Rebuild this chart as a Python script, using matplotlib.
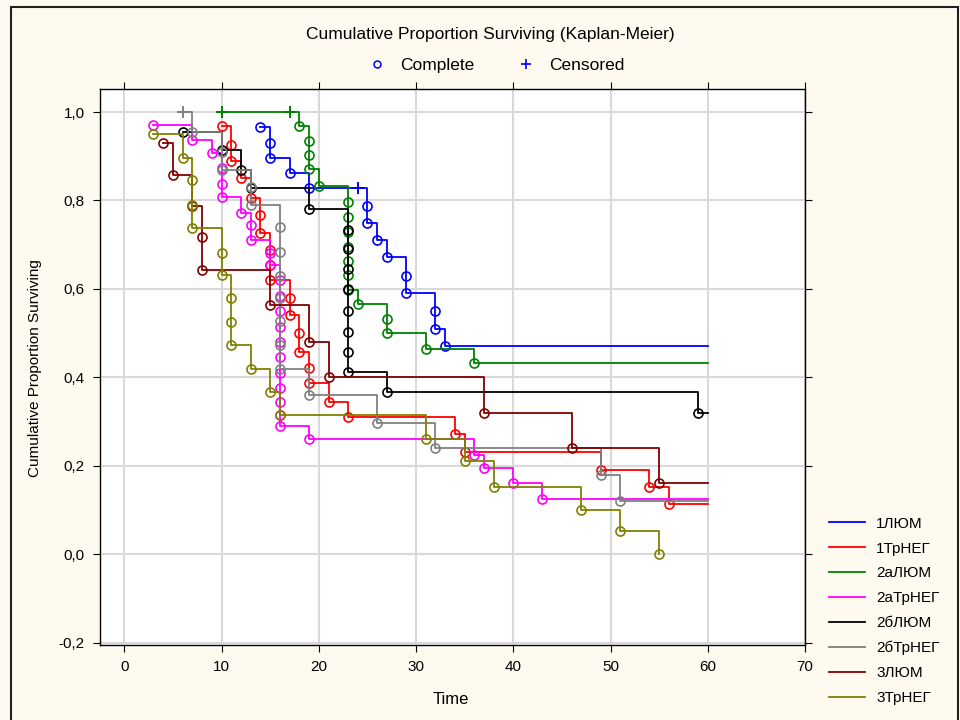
import matplotlib
matplotlib.use("Agg")
import matplotlib.pyplot as plt
from matplotlib.lines import Line2D
from matplotlib.patches import Rectangle

plt.rcParams['font.family'] = ['Liberation Sans', 'DejaVu Sans']

labels = ["1ЛЮМ", "1ТрНЕГ", "2аЛЮМ", "2аТрНЕГ", "2бЛЮМ", "2бТрНЕГ", "3ЛЮМ", "3ТрНЕГ"]
colors = ["#0000ff", "#ff0000", "#008000", "#ff00ff", "#000000", "#808080", "#800000", "#808000"]

# time, survival, flag (1 = complete, 0 = censored)
t_1lum = [14, 15, 15, 17, 19, 24, 25, 25, 26, 27, 29, 29, 32, 32, 33]
s_1lum = [0.966, 0.931, 0.897, 0.862, 0.828, 0.828, 0.788, 0.75, 0.711, 0.672, 0.630, 0.590, 0.550, 0.510, 0.472]
c_1lum = [1, 1, 1, 1, 1, 0, 1, 1, 1, 1, 1, 1, 1, 1, 1]

t_1neg = [10, 11, 11, 12, 13, 14, 14, 15, 15, 15, 17, 17, 18, 18, 19, 19, 21, 23, 34, 35, 49, 54, 56]
s_1neg = [0.968, 0.925, 0.89, 0.851, 0.806, 0.767, 0.727, 0.688, 0.655, 0.62, 0.58, 0.542, 0.501, 0.458,
          0.422, 0.388, 0.345, 0.31, 0.272, 0.232, 0.19, 0.153, 0.113]
c_1neg = [1] * 23

t_2alum = [10, 17, 18, 19, 19, 19, 20, 23, 23, 23, 23, 23, 23, 23, 24, 27, 27, 31, 36]
s_2alum = [1.0, 1.0, 0.968, 0.935, 0.903, 0.871, 0.833, 0.797, 0.763, 0.729, 0.695, 0.663, 0.631, 0.598,
           0.567, 0.533, 0.50, 0.465, 0.433]
c_2alum = [0, 0, 1, 1, 1, 1, 1, 1, 1, 1, 1, 1, 1, 1, 1, 1, 1, 1, 1]

t_2aneg = [3, 7, 9, 10, 10, 10, 12, 13, 13, 15, 15, 16, 16, 16, 16, 16, 16, 16, 16, 16, 16, 16,
           19, 36, 37, 40, 43]
s_2aneg = [0.97, 0.937, 0.907, 0.874, 0.838, 0.808, 0.772, 0.745, 0.711, 0.682, 0.655, 0.62, 0.585,
           0.55, 0.515, 0.48, 0.445, 0.41, 0.375, 0.345, 0.315, 0.289, 0.26, 0.225, 0.196, 0.162, 0.126]
c_2aneg = [1] * 27

t_2blum = [6, 10, 12, 13, 19, 23, 23, 23, 23, 23, 23, 23, 23, 27, 59]
s_2blum = [0.955, 0.914, 0.87, 0.828, 0.78, 0.734, 0.69, 0.645, 0.6, 0.55, 0.503, 0.458, 0.413, 0.366, 0.32]
c_2blum = [1] * 15

t_2bneg = [6, 7, 10, 10, 13, 13, 16, 16, 16, 16, 16, 16, 16, 19, 26, 32, 49, 51]
s_2bneg = [1.0, 0.955, 0.91, 0.868, 0.83, 0.79, 0.74, 0.684, 0.63, 0.58, 0.527, 0.474, 0.418, 0.361,
           0.298, 0.24, 0.18, 0.12]
c_2bneg = [0] + [1] * 17

t_3lum = [4, 5, 7, 8, 8, 15, 19, 21, 37, 46, 55]
s_3lum = [0.93, 0.858, 0.788, 0.718, 0.643, 0.564, 0.481, 0.402, 0.32, 0.24, 0.162]
c_3lum = [1] * 11

t_3neg = [3, 6, 7, 7, 7, 10, 10, 11, 11, 11, 13, 15, 16, 31, 35, 38, 47, 51, 55]
s_3neg = [0.95, 0.896, 0.846, 0.79, 0.738, 0.682, 0.632, 0.58, 0.526, 0.474, 0.418, 0.368, 0.316, 0.26,
          0.21, 0.153, 0.10, 0.052, 0.0]
c_3neg = [1] * 19

end_times = [60, 60, 60, 60, 60, 60, 60, 55]

series = [(t_1lum, s_1lum, c_1lum), (t_1neg, s_1neg, c_1neg), (t_2alum, s_2alum, c_2alum),
          (t_2aneg, s_2aneg, c_2aneg), (t_2blum, s_2blum, c_2blum), (t_2bneg, s_2bneg, c_2bneg),
          (t_3lum, s_3lum, c_3lum), (t_3neg, s_3neg, c_3neg)]

yticks = [-0.2, 0.0, 0.2, 0.4, 0.6, 0.8, 1.0]

fig = plt.figure(figsize=(9.6, 7.2), dpi=100, facecolor="#fffaf0")
fig.patches.append(Rectangle((11 / 960, -0.02), 947 / 960, 1.02 - 7 / 720, transform=fig.transFigure,
                             fill=False, edgecolor="#202020", lw=1.5))

ax = fig.add_axes([100 / 960, 75 / 720, 705 / 960, 556 / 720])
ax.set_facecolor("white")

for (t, s, c), end, col, lab in zip(series, end_times, colors, labels):
    xs = t + [end]
    ys = s + [s[-1]]
    ax.step(xs, ys, where="post", color=col, lw=1.3, label=lab)
    ax.plot([ti for ti, ci in zip(t, c) if ci], [si for si, ci in zip(s, c) if ci], "o",
            mfc="none", mec=col, ms=6.5, mew=1.2)
    ax.plot([ti for ti, ci in zip(t, c) if not ci], [si for si, ci in zip(s, c) if not ci], "+",
            color=col, ms=8, mew=1.4)

ax.set_xlim(-2.5, 70)
ax.set_ylim(-0.205, 1.052)
ax.set_xticks(range(0, 71, 10))
ax.set_yticks(yticks)
ax.set_yticklabels([f"{v:.1f}".replace(".", ",") for v in yticks])
ax.grid(color="#d9d9d9", lw=1.5)
ax.set_axisbelow(True)
ax.tick_params(direction="out", top=True, right=True, length=5, labelsize=11, pad=6)
for sp in ax.spines.values():
    sp.set_linewidth(1.0)

fig.text(490 / 960, 1 - 34 / 720, "Cumulative Proportion Surviving (Kaplan-Meier)",
         ha="center", va="center", fontsize=12.5)
top_handles = [Line2D([], [], marker="o", color="#0000ff", mfc="none", ls="none", ms=5, mew=1.1),
               Line2D([], [], marker="+", color="#0000ff", ls="none", ms=7, mew=1.2)]
fig.legend(top_handles, ["Complete", "Censored"], loc="center", bbox_to_anchor=(492 / 960, 1 - 65 / 720),
           ncol=2, frameon=False, fontsize=12.5, columnspacing=2.0, handletextpad=0.3)

fig.text(35 / 960, 1 - 368 / 720, "Cumulative Proportion Surviving", rotation=90,
         ha="center", va="center", fontsize=11)
fig.text(451 / 960, 1 - 700 / 720, "Time", ha="center", va="center", fontsize=12)

fig.legend(loc="upper left", bbox_to_anchor=(815 / 960, 1 - 503 / 720), frameon=False, fontsize=11,
           labelspacing=0.71, handlelength=2.4, handletextpad=0.7)

fig.savefig("out.png", dpi=100, facecolor=fig.get_facecolor())
